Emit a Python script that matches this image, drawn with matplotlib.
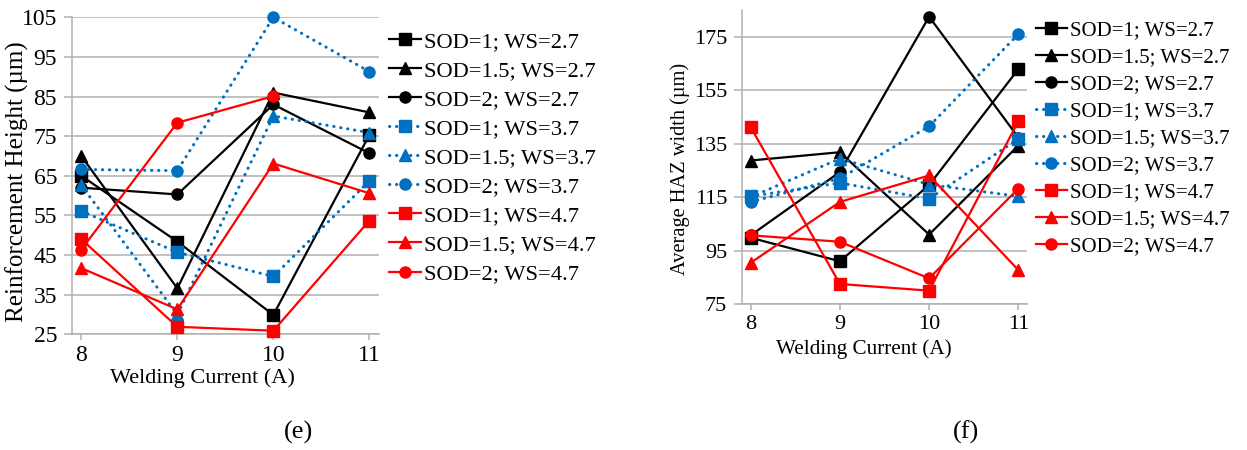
import numpy as np
import matplotlib

matplotlib.use("Agg")
import matplotlib.pyplot as plt

plt.rcParams["font.family"] = ["Liberation Serif", "DejaVu Serif"]

# Welding current levels (A)
current = [8, 9, 10, 11]

series_labels = [
    "SOD=1; WS=2.7", "SOD=1.5; WS=2.7", "SOD=2; WS=2.7",
    "SOD=1; WS=3.7", "SOD=1.5; WS=3.7", "SOD=2; WS=3.7",
    "SOD=1; WS=4.7", "SOD=1.5; WS=4.7", "SOD=2; WS=4.7",
]

# (e) reinforcement height, µm
reinf_ws27_sod1 = [65.0, 48.4, 29.9, 75.3]
reinf_ws27_sod15 = [70.0, 36.6, 86.0, 81.0]
reinf_ws27_sod2 = [62.0, 60.3, 83.0, 70.7]
reinf_ws37_sod1 = [56.1, 45.7, 39.6, 63.7]
reinf_ws37_sod15 = [62.6, 30.0, 80.1, 75.9]
reinf_ws37_sod2 = [66.6, 66.3, 105.0, 91.3]
reinf_ws47_sod1 = [49.0, 26.9, 25.9, 53.7]
reinf_ws47_sod15 = [41.7, 31.3, 68.1, 60.6]
reinf_ws47_sod2 = [46.4, 78.4, 85.1, np.nan]

# (f) average HAZ width, µm
haz_ws27_sod1 = [99.8, 91.0, 119.5, 162.9]
haz_ws27_sod15 = [128.7, 131.8, 101.0, 134.3]
haz_ws27_sod2 = [100.7, 124.4, 182.5, 137.3]
haz_ws37_sod1 = [115.3, 120.3, 114.4, 136.8]
haz_ws37_sod15 = [115.0, 129.4, 119.7, 115.3]
haz_ws37_sod2 = [113.2, 122.0, 141.5, 176.0]
haz_ws47_sod1 = [141.2, 82.5, 80.0, 143.4]
haz_ws47_sod15 = [90.4, 113.2, 123.1, 87.7]
haz_ws47_sod2 = [100.7, 98.3, 84.6, 118.2]

reinf = [reinf_ws27_sod1, reinf_ws27_sod15, reinf_ws27_sod2,
         reinf_ws37_sod1, reinf_ws37_sod15, reinf_ws37_sod2,
         reinf_ws47_sod1, reinf_ws47_sod15, reinf_ws47_sod2]
haz = [haz_ws27_sod1, haz_ws27_sod15, haz_ws27_sod2,
       haz_ws37_sod1, haz_ws37_sod15, haz_ws37_sod2,
       haz_ws47_sod1, haz_ws47_sod15, haz_ws47_sod2]

# one style per wire speed, one marker per stand-off distance
ws_styles = [("#000000", "-"), ("#0070C0", (0, (0.1, 2.2))), ("#FF0000", "-")]
sod_markers = ["s", "^", "o"]

GRID = "#b0b0b0"


def draw_panel(ax, data, ylim, yticks, ylabel, tick_fs, label_fs):
    for i, values in enumerate(data):
        color, ls = ws_styles[i // 3]
        dotted = i // 3 == 1
        ax.plot(current, values, color=color, linestyle=ls,
                linewidth=2.2 if dotted else 1.6,
                dash_capstyle="round",
                marker=sod_markers[i % 3], markersize=8,
                markerfacecolor=color, markeredgecolor=color,
                label=series_labels[i], clip_on=False, zorder=3)
    ax.set_xlim(7.9, 11.1)
    ax.set_ylim(*ylim)
    ax.set_xticks(current)
    ax.set_yticks(yticks)
    ax.grid(axis="y", color=GRID, linewidth=1.1)
    ax.set_axisbelow(True)
    for side in ("top", "right"):
        ax.spines[side].set_visible(False)
    for side in ("left", "bottom"):
        ax.spines[side].set_color(GRID)
        ax.spines[side].set_linewidth(1.1)
    ax.tick_params(axis="y", length=6, color=GRID, width=1.1, pad=4.5,
                   labelsize=tick_fs)
    ax.tick_params(axis="x", length=4, color=GRID, width=1.1, pad=4,
                   labelsize=tick_fs)
    ax.set_xlabel("Welding Current (A)", labelpad=1, fontsize=label_fs)
    ax.set_ylabel(ylabel, fontsize=label_fs)


fig = plt.figure(figsize=(12.47, 4.5), dpi=100)

ax_e = fig.add_axes([0.0575, 0.2571, 0.2464, 0.7044])
draw_panel(ax_e, reinf, (25, 105), np.arange(25, 106, 10),
           "Reinforcement Height (µm)", 17, 16)
ax_e.yaxis.label.set_fontsize(18)
ax_e.yaxis.set_label_coords(-0.14, 0.483)
ax_e.xaxis.label.set_x(0.424)
ax_e.legend(loc="upper left", bbox_to_anchor=(1.004, 0.985), frameon=False,
            fontsize=16.2, handlelength=1.4, handletextpad=0.15,
            labelspacing=0.37, borderaxespad=0)

ax_f = fig.add_axes([0.5948, 0.3244, 0.229, 0.6533])
draw_panel(ax_f, haz, (75, 185), np.arange(75, 176, 20),
           "Average HAZ width (µm)", 16, 15.2)
ax_f.yaxis.label.set_fontsize(14.7)
ax_f.yaxis.set_label_coords(-0.181, 0.459)
ax_f.xaxis.label.set_x(0.428)
ax_f.xaxis.labelpad = 4
ax_f.legend(loc="upper left", bbox_to_anchor=(1.0, 0.993), frameon=False,
            fontsize=15, handlelength=1.5, handletextpad=0.15,
            labelspacing=0.36, borderaxespad=0)

fig.text(0.239, 0.04, "(e)", fontsize=19, ha="center", va="center")
fig.text(0.775, 0.04, "(f)", fontsize=19, ha="center", va="center")

fig.savefig("out.png", dpi=100)
plt.close(fig)
